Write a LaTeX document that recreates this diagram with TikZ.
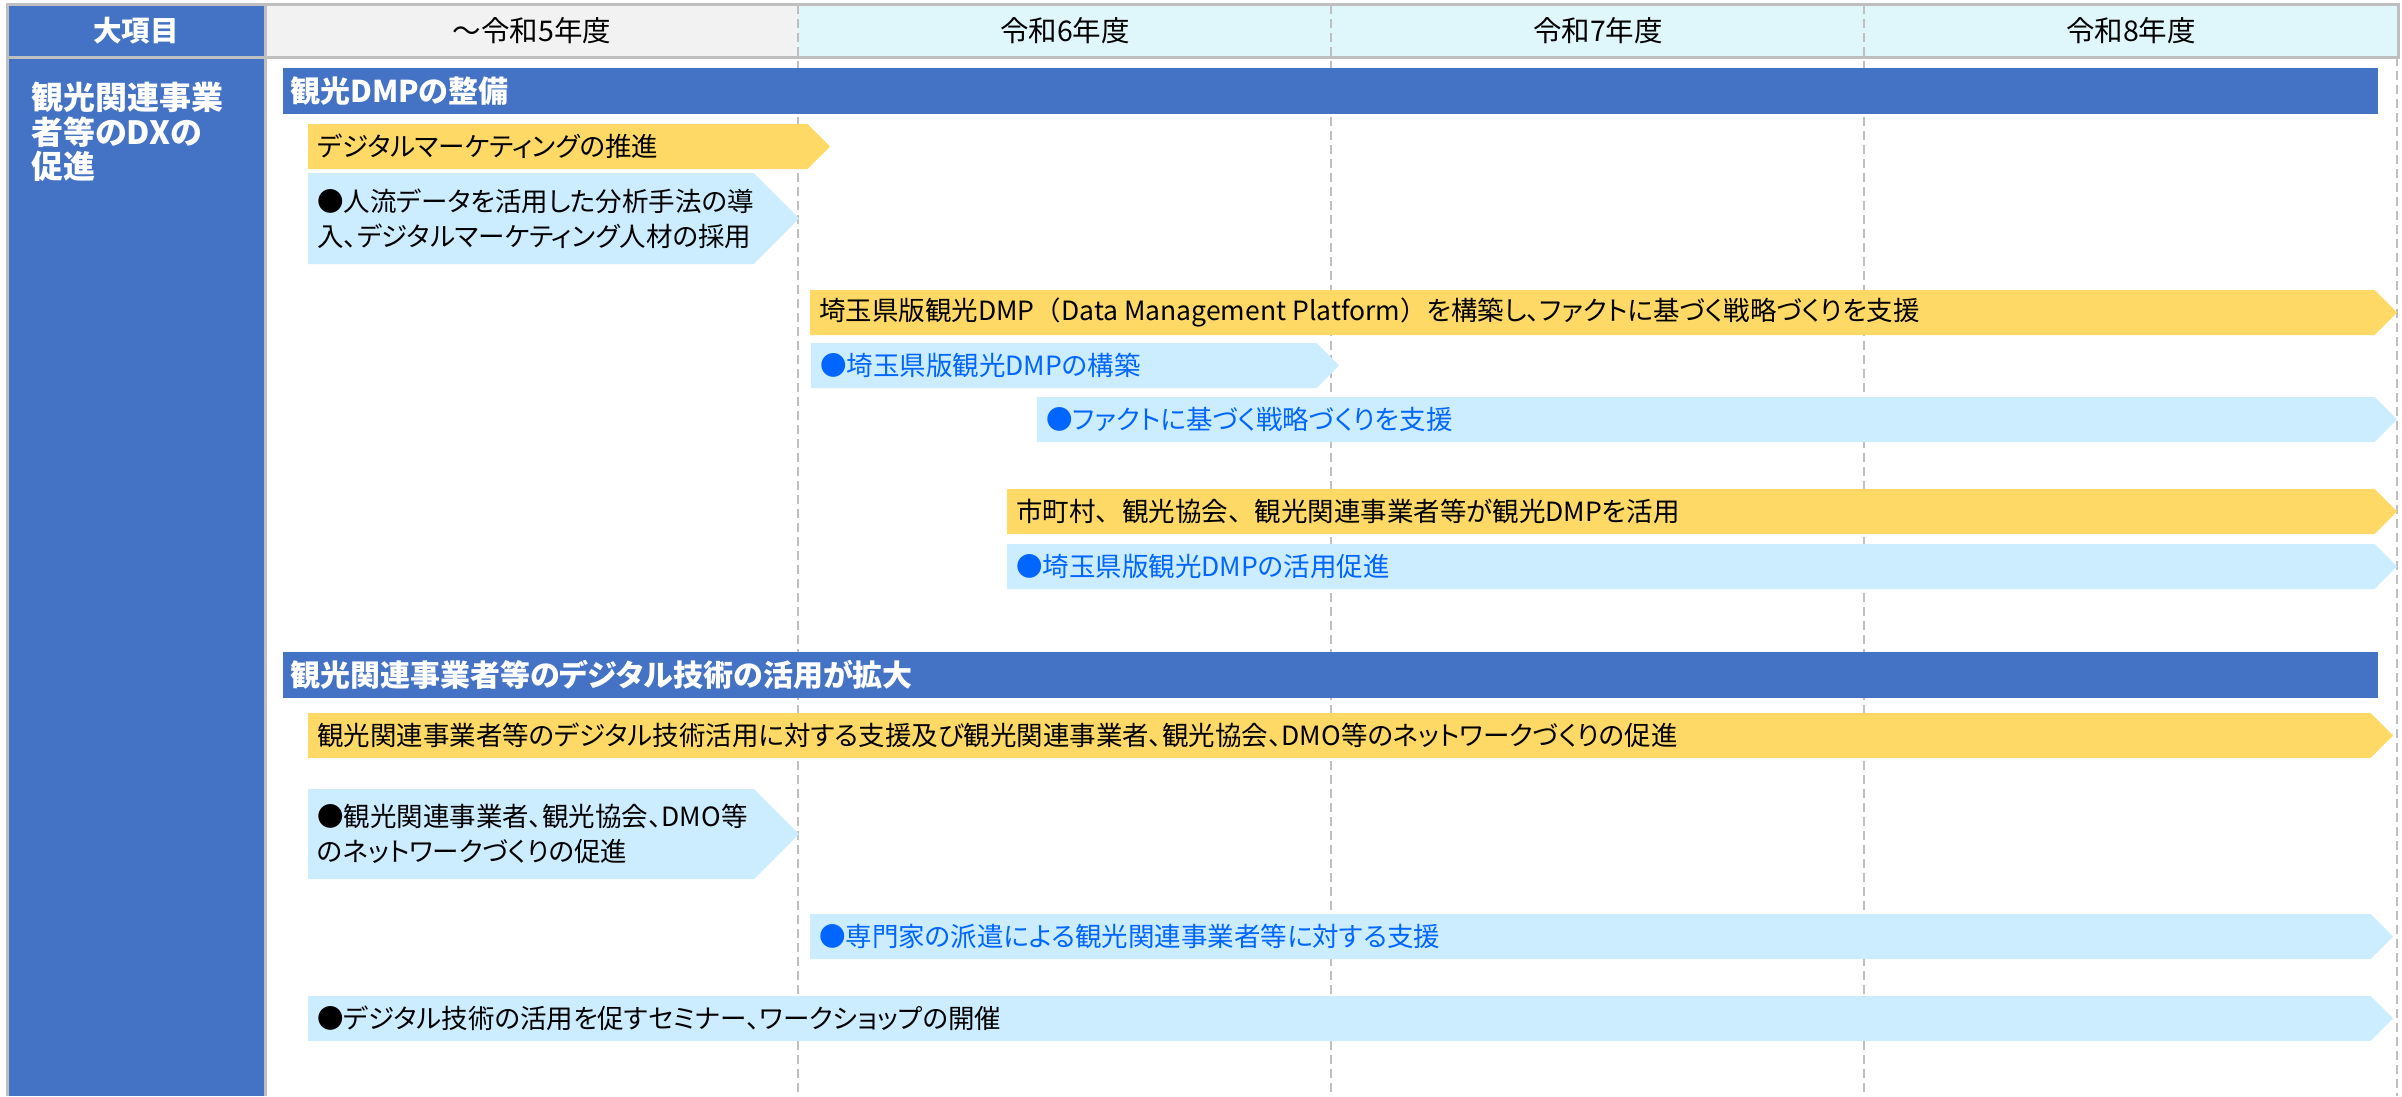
\documentclass[tikz,border=0pt]{standalone}
\usepackage{fontspec}
\setmainfont{Noto Sans CJK JP}[RawFeature={+palt}]
\definecolor{hdrblue}{RGB}{68,114,196}
\definecolor{baryel}{RGB}{255,217,102}
\definecolor{barlb}{RGB}{204,236,255}
\definecolor{txtblue}{RGB}{0,102,255}
\definecolor{gridgray}{RGB}{191,191,191}
\definecolor{hdrgray}{RGB}{242,242,242}
\definecolor{hdrcyan}{RGB}{223,247,251}
\newcommand{\chevbar}[6]{%
  \fill[#6] (#2,#3) -- ({#5-(#4-#3)/2},#3) -- (#5,{(#3+#4)/2}) -- ({#5-(#4-#3)/2},#4) -- (#2,#4) -- cycle;
  \coordinate (#1) at (#2,{(#3+#4)/2});
}
\newcommand{\fw}[1]{{\addfontfeature{RawFeature={-palt}}#1}}
\tikzset{
  itemtxt/.style={anchor=west, inner sep=0pt, font=\fontsize{26.5}{35}\selectfont, align=left},
  bluetxt/.style={itemtxt, text=txtblue},
  titletxt/.style={anchor=west, inner sep=0pt, text=white, font=\fontsize{30}{34}\selectfont\bfseries},
  hdrtxt/.style={inner sep=0pt, font=\fontsize{28.5}{32}\selectfont},
  gridline/.style={draw=gridgray, line width=2.5pt, dash pattern=on 8.5pt off 5.5pt},
  frameline/.style={draw=gridgray, line width=3pt},
  yelbar/.style={fill=baryel},
  lbbar/.style={fill=barlb},
  secbar/.style={fill=hdrblue},
}
\begin{document}
\begin{tikzpicture}[x=1pt,y=-1pt]
\useasboundingbox (0,0) rectangle (2402,1096);
\fill[white] (0,0) rectangle (2402,1096);
% header cells
\fill[hdrblue] (7,4) rectangle (265,57);
\fill[hdrgray] (265,4) rectangle (798,57);
\fill[hdrcyan] (798,4) rectangle (2398,57);
% left body column
\fill[hdrblue] (7,57) rectangle (265,1096);
% grid lines
\coordinate (g1t) at (798,5);  \coordinate (g1b) at (798,1096);
\coordinate (g2t) at (1331,5); \coordinate (g2b) at (1331,1096);
\coordinate (g3t) at (1864,5); \coordinate (g3b) at (1864,1096);
\coordinate (g4t) at (2397,57); \coordinate (g4b) at (2397,1096);
\draw[gridline] (g1t) -- (g1b);
\draw[gridline] (g2t) -- (g2b);
\draw[gridline] (g3t) -- (g3b);
\draw[gridline] (g4t) -- (g4b);
% frame
\coordinate (f1) at (7,4); \coordinate (f2) at (2398,4);
\coordinate (f3) at (2398,57); \coordinate (f4) at (7,57);
\coordinate (f5) at (7,1096); \coordinate (f6) at (265,4); \coordinate (f7) at (265,1096);
\draw[frameline] (f4) -- (f1) -- (f2) -- (f3) -- (f4) -- (f5);
\draw[frameline] (f6) -- (f7);
% header texts
\node[hdrtxt, text=white, font=\fontsize{28.5}{32}\selectfont\bfseries] (h0) at (136,31) {大項目};
\node[hdrtxt] (h1) at (532,31) {～令和5年度};
\node[hdrtxt] (h2) at (1065,31) {令和6年度};
\node[hdrtxt] (h3) at (1598,31) {令和7年度};
\node[hdrtxt] (h4) at (2131,31) {令和8年度};
% left column label
\node[anchor=north west, inner sep=0pt, text=white, align=left,
      font=\fontsize{32}{34.5}\selectfont\bfseries] (lab) at (31,82)
      {観光関連事業\\者等のDXの\\促進};
% section bars
\fill[secbar] (283,68) rectangle (2378,114);
\coordinate (s1) at (283,91);
\node[titletxt] (ts1) at (290,91) {観光DMPの整備};
\fill[secbar] (283,652) rectangle (2378,698);
\coordinate (s2) at (283,675);
\node[titletxt] (ts2) at (290,675) {観光関連事業者等のデジタル技術の活用が拡大};
% item bars
\chevbar{a}{308}{124}{169}{830}{yelbar}
\chevbar{b}{308}{173}{264}{799}{lbbar}
\chevbar{c}{810}{290}{335}{2397}{yelbar}
\chevbar{d}{811}{343}{388}{1339}{lbbar}
\chevbar{e}{1037}{397}{442}{2397}{lbbar}
\chevbar{f}{1007}{489}{534}{2397}{yelbar}
\chevbar{g}{1007}{544}{589}{2397}{lbbar}
\chevbar{h}{308}{713}{758}{2393}{yelbar}
\chevbar{i}{308}{789}{879}{799}{lbbar}
\chevbar{j}{810}{914}{959}{2393}{lbbar}
\chevbar{k}{308}{996}{1041}{2393}{lbbar}
% item texts
\node[itemtxt] (ta) at (317,146.5) {デジタルマーケティングの推進};
\node[itemtxt] (tb) at (317,218.5) {●人流データを活用した分析手法の導\\入、デジタルマーケティング人材の採用};
\node[itemtxt] (tc) at (819,312.5) {埼玉県版観光DMP\fw{（}Data Management Platform\fw{）}を構築し、ファクトに基づく戦略づくりを支援};
\node[bluetxt] (td) at (820,365.5) {●埼玉県版観光DMPの構築};
\node[bluetxt] (te) at (1046,419.5) {●ファクトに基づく戦略づくりを支援};
\node[itemtxt] (tf) at (1016,511.5) {市町村\fw{、}観光協会\fw{、}観光関連事業者等が観光DMPを活用};
\node[bluetxt] (tg) at (1016,566.5) {●埼玉県版観光DMPの活用促進};
\node[itemtxt] (th) at (317,735.5) {観光関連事業者等のデジタル技術活用に対する支援及び観光関連事業者、観光協会、DMO等のネットワークづくりの促進};
\node[itemtxt] (ti) at (317,834) {●観光関連事業者、観光協会、DMO等\\のネットワークづくりの促進};
\node[bluetxt] (tj) at (819,936.5) {●専門家の派遣による観光関連事業者等に対する支援};
\node[itemtxt] (tk) at (317,1018.5) {●デジタル技術の活用を促すセミナー、ワークショップの開催};
\end{tikzpicture}
\end{document}
